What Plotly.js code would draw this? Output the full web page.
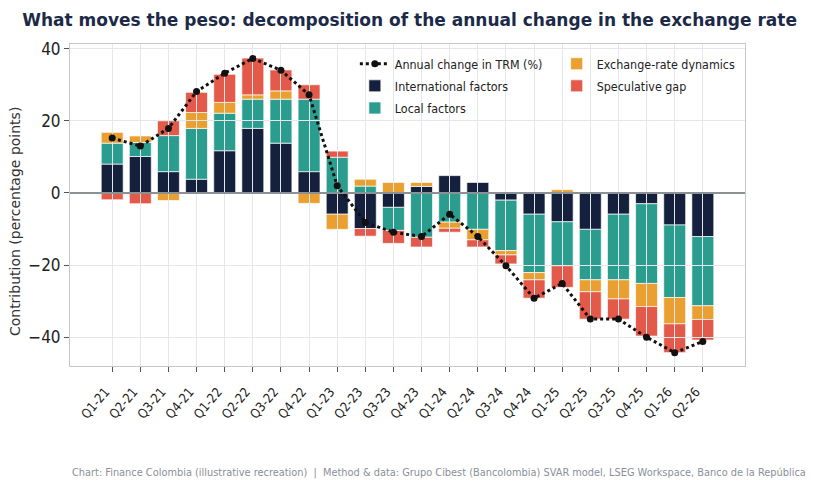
<!DOCTYPE html>
<html>
<head>
<meta charset="utf-8">
<script src="https://cdn.plot.ly/plotly-3.0.1.min.js"></script>
<style>html,body{margin:0;padding:0;background:#fff;}#chart{width:820px;height:492px;}</style>
</head>
<body>
<div id="chart"></div>
<script>
const quarters = ["Q1-21","Q2-21","Q3-21","Q4-21","Q1-22","Q2-22","Q3-22","Q4-22",
  "Q1-23","Q2-23","Q3-23","Q4-23","Q1-24","Q2-24","Q3-24","Q4-24",
  "Q1-25","Q2-25","Q3-25","Q4-25","Q1-26","Q2-26"];
const international = [8.0,10.1,5.9,3.8,11.7,17.9,13.8,5.9,-5.9,-9.9,-4.0,1.8,4.8,2.9,-2.0,-5.9,-8.0,-10.1,-5.9,-3.0,-8.9,-12.1];
const local = [5.8,3.9,10.0,14.1,10.4,8.1,12.2,20.1,9.9,1.9,-6.4,-12.3,-8.1,-10.1,-14.0,-16.2,-12.2,-14.0,-18.2,-22.1,-20.1,-19.2];
const exchangeRate = [3.0,1.8,-2.1,4.4,3.0,1.2,2.3,-2.9,-4.2,1.9,2.9,1.1,-1.7,-2.9,-1.2,-2.0,0.9,-3.3,-5.3,-6.4,-7.3,-3.8];
const speculative = [-1.9,-3.0,4.1,5.6,7.8,10.2,5.8,4.0,1.7,-2.1,-3.6,-2.7,-1.1,-2.0,-2.5,-5.1,-6.0,-7.6,-5.6,-8.2,-8.0,-5.7];
const trmChange = [15.2,13.0,17.9,28.1,33.2,37.3,34.0,27.2,2.0,-8.2,-10.9,-12.1,-5.9,-12.1,-20.2,-29.2,-25.1,-35.0,-35.0,-40.0,-44.3,-41.2];

const names = ["Annual change in TRM (%)","International factors","Local factors","Exchange-rate dynamics","Speculative gap"];
const colors = {navy:"#15203d", teal:"#2a9d8f", orange:"#e9a030", red:"#e3594a"};

function barTrace(name, vals, color, legend) {
  return {type:"bar", name:name, x:quarters, y:vals, xaxis:"x", yaxis:"y",
    marker:{color:color, line:{color:"rgba(255,255,255,0.85)", width:0.8}},
    legend:legend, legendgroup:name, hoverinfo:"skip"};
}

const data = [
  {type:"scatter", mode:"lines+markers", name:names[0], x:quarters, y:trmChange,
   xaxis:"x2", yaxis:"y2", legend:"legend", legendgroup:names[0],
   line:{color:"#111111", width:3, dash:"dot"},
   marker:{color:"#111111", size:7}},
  barTrace(names[1], international, colors.navy, "legend"),
  barTrace(names[2], local, colors.teal, "legend"),
  barTrace(names[3], exchangeRate, colors.orange, "legend2"),
  barTrace(names[4], speculative, colors.red, "legend2")
];

const baseFont = "DejaVu Sans, Verdana, sans-serif";
const condFont = "DejaVu Sans Condensed, DejaVu Sans, sans-serif";
const xr = [-1.5, 22.5], yr = [-48, 41.3];
const frame = "#c5c9ce";

const layout = {
  width:820, height:492,
  margin:{l:70, r:75, t:44, b:126},
  paper_bgcolor:"#ffffff", plot_bgcolor:"rgba(0,0,0,0)",
  barmode:"relative", bargap:0.22,
  showlegend:true,
  font:{family:baseFont, color:"#222"},
  title:{text:"What moves the peso: decomposition of the annual change in the exchange rate",
    x:0.027, xanchor:"left", y:0.96, yanchor:"middle",
    font:{family:"DejaVu Sans, sans-serif", size:17, color:"#1c2a48", weight:700}},
  xaxis:{type:"category", range:xr, domain:[0,1], anchor:"y",
    showgrid:false, zeroline:false, showline:true, mirror:true, linecolor:frame, linewidth:1,
    ticks:"outside", ticklen:5, tickcolor:"#555", tickangle:-50,
    ticklabelstandoff:7, ticklabelshift:-7,
    tickfont:{family:condFont, size:13, color:"#222"}},
  yaxis:{range:yr, domain:[0,1], anchor:"x", tickvals:[-40,-20,0,20,40],
    ticktext:["\u221240","\u221220","0","20","40"],
    showgrid:false, zeroline:false, showline:true, mirror:true, linecolor:frame, linewidth:1,
    ticks:"outside", ticklen:5, tickcolor:"#555",
    tickfont:{family:condFont, size:17, color:"#222"}},
  xaxis2:{type:"category", range:xr, domain:[0,1], anchor:"y2",
    showgrid:true, gridcolor:"#e3e6ea", gridwidth:1, zeroline:false,
    showticklabels:false, ticks:"", showline:false},
  yaxis2:{range:yr, domain:[0,1], anchor:"x2", tickvals:[-40,-20,0,20,40],
    showgrid:true, gridcolor:"#e3e6ea", gridwidth:1,
    zeroline:true, zerolinecolor:"#8c9196", zerolinewidth:1.5,
    showticklabels:false, ticks:"", showline:false},
  legend:{x:0.422, xanchor:"left", y:0.984, yanchor:"top", bgcolor:"rgba(0,0,0,0)",
    tracegroupgap:3, font:{family:condFont, size:12.4, color:"#222"}},
  legend2:{x:0.721, xanchor:"left", y:0.984, yanchor:"top", bgcolor:"rgba(0,0,0,0)",
    tracegroupgap:3, font:{family:condFont, size:12.4, color:"#222"}},
  annotations:[
    {xref:"paper", yref:"paper", x:-0.0815, xanchor:"center", y:0.45, yanchor:"middle",
     showarrow:false, textangle:-90, text:"Contribution (percentage points)",
     font:{family:baseFont, size:14, color:"#333"}},
    {xref:"paper", yref:"paper", x:0, xanchor:"left", y:-0.33, yanchor:"middle",
     showarrow:false,
     text:"Chart: Finance Colombia (illustrative recreation)  |  Method &amp; data: Grupo Cibest (Bancolombia) SVAR model, LSEG Workspace, Banco de la República",
     font:{family:condFont, size:10.9, color:"#8a8f99"}}]
};

Plotly.newPlot("chart", data, layout, {displayModeBar:false, staticPlot:true});
</script>
</body>
</html>
